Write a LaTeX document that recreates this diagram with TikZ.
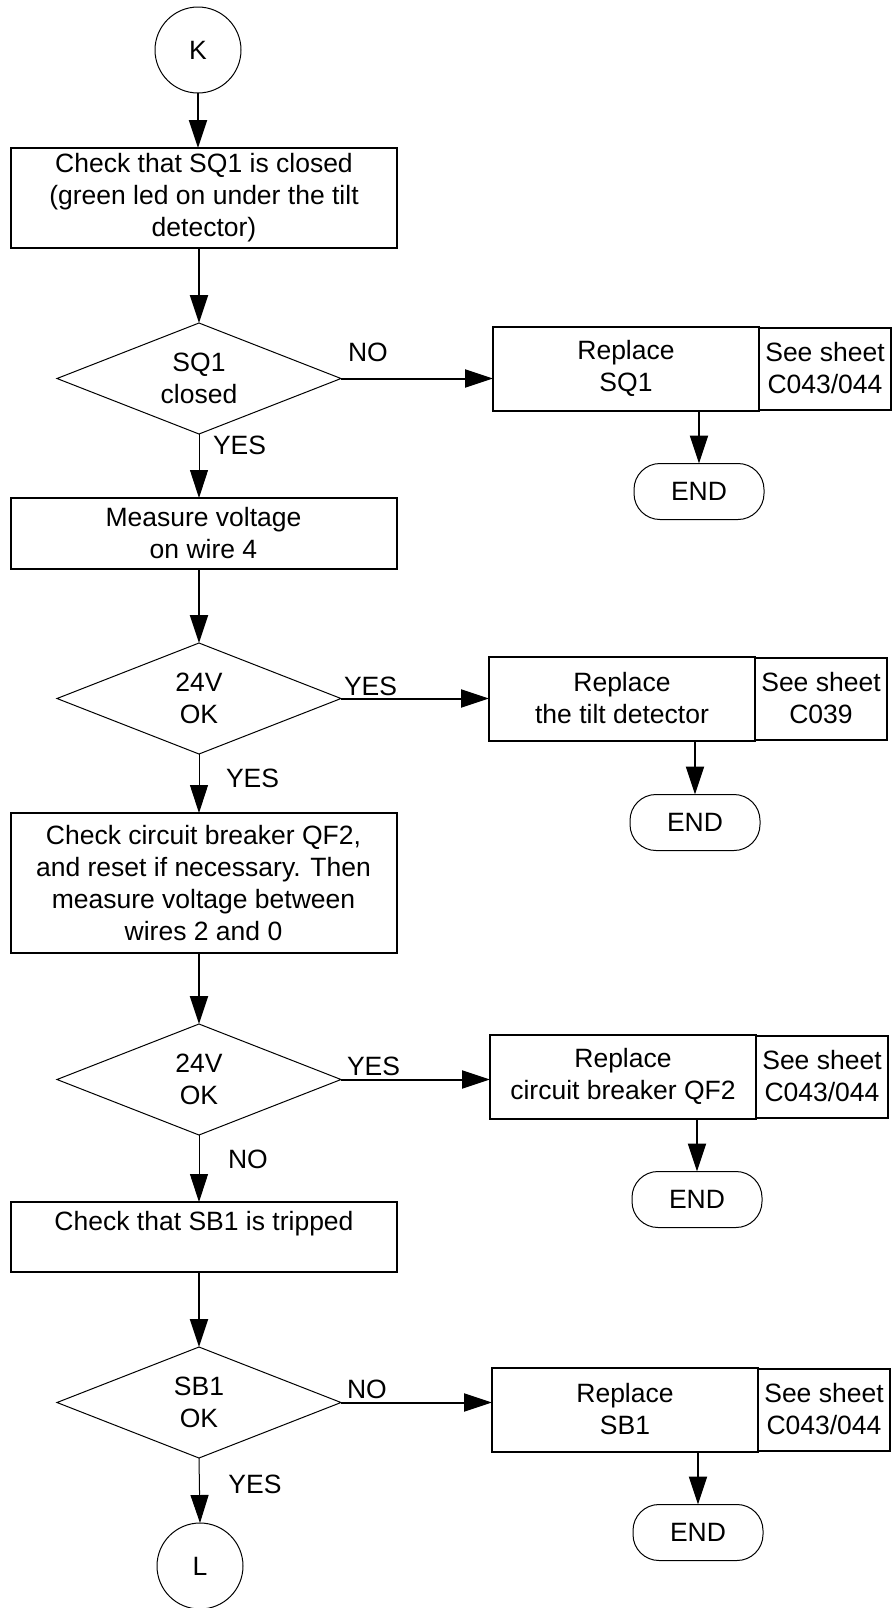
\documentclass[tikz,border=0pt]{standalone}
\usepackage{fontspec}
\setmainfont{Liberation Sans}
\usetikzlibrary{shapes.geometric, arrows.meta, positioning}
\tikzset{
  conn/.style={circle, draw=black, line width=0.5pt, minimum size=43pt, inner sep=0pt},
  block/.style={rectangle, draw=black, line width=1pt, minimum width=193pt, align=center, inner sep=2pt},
  decision/.style={diamond, aspect=2.56, draw=black, line width=0.5pt, minimum width=142pt, minimum height=55.5pt, inner sep=0pt, align=center},
  action/.style={rectangle, draw=black, line width=1pt, minimum width=133pt, minimum height=42pt, align=center, inner sep=2pt},
  sheet/.style={rectangle, draw=black, line width=1pt, minimum width=66pt, minimum height=41pt, align=center, inner sep=2pt},
  endbox/.style={rectangle, rounded corners=13pt, draw=black, line width=0.5pt, minimum width=65pt, minimum height=28pt},
  lbl/.style={inner sep=0pt, anchor=west},
  arrow/.style={-{Triangle[length=14pt, width=9pt]}, line width=1pt},
  thinarrow/.style={-{Triangle[length=14pt, width=9pt]}, line width=0.5pt}
}
\begin{document}
\begin{tikzpicture}[x=0.5pt, y=-0.5pt, font=\fontsize{13.25pt}{16pt}\selectfont,
  every node/.append style={outer sep=0pt}]
  \useasboundingbox (0,0) rectangle (892,1608);
  % main column
  \node[conn] (k) at (198,50) {K};
  \node[block, minimum height=50pt, below=27.5pt of k, xshift=3pt] (chksq1) {Check that SQ1 is closed\\(green led on under the tilt\\detector)};
  \node[decision, below=37.5pt of chksq1, xshift=-2.5pt] (sq1) {SQ1\\closed};
  \node[block, minimum height=35.5pt, below=32pt of sq1, xshift=2.25pt] (meas4) {Measure voltage\\on wire 4};
  \node[decision, below=37pt of meas4, xshift=-2.25pt] (v24a) {24V\\OK};
  \node[block, minimum height=70pt, below=29.5pt of v24a, xshift=2.25pt] (chkqf2) {Check circuit breaker QF2,\\and reset if necessary. Then\\measure voltage between\\wires 2 and 0};
  \node[decision, below=35.5pt of chkqf2, xshift=-2.25pt] (v24b) {24V\\OK};
  \node[block, minimum height=35pt, below=33.5pt of v24b, xshift=2.5pt] (chksb1) {Check that SB1 is tripped\\\mbox{}};
  \node[decision, below=37.5pt of chksb1, xshift=-2.5pt] (sb1) {SB1\\OK};
  \node[conn, below=32.5pt of sb1, xshift=0.5pt] (l) {L};
  % right side
  \node[action, right=76pt of sq1, yshift=5pt] (repsq1) {Replace\\SQ1};
  \node[sheet, right=0pt of repsq1] (shsq1) {See sheet\\C043/044};
  \node[endbox, below=26.5pt of repsq1, xshift=36.5pt] (end1) {END};
  \node[action, right=74pt of v24a] (reptilt) {Replace\\the tilt detector};
  \node[sheet, right=0pt of reptilt] (shtilt) {See sheet\\C039};
  \node[endbox, below=27pt of reptilt, xshift=36.5pt] (end2) {END};
  \node[action, right=74.5pt of v24b, yshift=1.5pt] (repqf2) {Replace\\circuit breaker QF2};
  \node[sheet, right=0pt of repqf2] (shqf2) {See sheet\\C043/044};
  \node[endbox, below=26.5pt of repqf2, xshift=37pt] (end3) {END};
  \node[action, right=75.5pt of sb1, yshift=-3.5pt] (repsb1) {Replace\\SB1};
  \node[sheet, right=0pt of repsb1] (shsb1) {See sheet\\C043/044};
  \node[endbox, below=26.5pt of repsb1, xshift=36.5pt] (end4) {END};
  % connectors
  \draw[arrow] (k.south) -- (k.south |- chksq1.north);
  \draw[arrow] (sq1.north |- chksq1.south) -- (sq1.north);
  \draw[thinarrow] (sq1.south) -- node[lbl, pos=0.17, xshift=7pt] (yes1) {YES} (sq1.south |- meas4.north);
  \draw[arrow] (v24a.north |- meas4.south) -- (v24a.north);
  \draw[thinarrow] (v24a.south) -- node[lbl, pos=0.42, xshift=13.5pt] (yes2) {YES} (v24a.south |- chkqf2.north);
  \draw[arrow] (v24b.north |- chkqf2.south) -- (v24b.north);
  \draw[thinarrow] (v24b.south) -- node[lbl, pos=0.37, xshift=14.5pt] (no3) {NO} (v24b.south |- chksb1.north);
  \draw[arrow] (sb1.north |- chksb1.south) -- (sb1.north);
  \draw[thinarrow] (sb1.south) -- node[lbl, pos=0.4, xshift=14.5pt] (yes4) {YES} (l.north);
  \draw[arrow] (sq1.east) -- node[lbl, pos=0, xshift=3.5pt, yshift=13pt] (no1) {NO} (sq1.east -| repsq1.west);
  \draw[arrow] (v24a.east) -- node[lbl, pos=0, xshift=1.5pt, yshift=6pt] (yes5) {YES} (v24a.east -| reptilt.west);
  \draw[arrow] (v24b.east) -- node[lbl, pos=0, xshift=3pt, yshift=6.5pt] (yes6) {YES} (v24b.east -| repqf2.west);
  \draw[arrow] (sb1.east) -- node[lbl, pos=0, xshift=3pt, yshift=6.5pt] (no4) {NO} (sb1.east -| repsb1.west);
  \draw[arrow] (end1.north |- repsq1.south) -- (end1.north);
  \draw[arrow] (end2.north |- reptilt.south) -- (end2.north);
  \draw[arrow] (end3.north |- repqf2.south) -- (end3.north);
  \draw[arrow] (end4.north |- repsb1.south) -- (end4.north);
\end{tikzpicture}
\end{document}
